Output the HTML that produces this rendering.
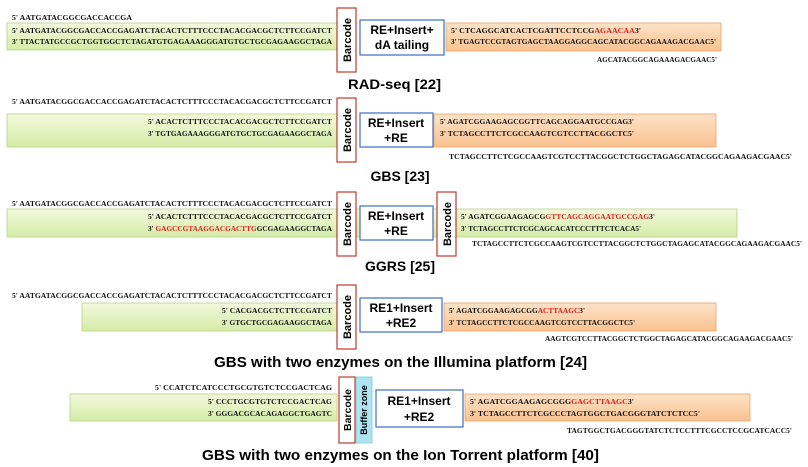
<!DOCTYPE html>
<html><head><meta charset="utf-8"><style>
html,body{margin:0;padding:0;background:#fff;}
svg{display:block}
.s{font-family:"Liberation Serif",serif;font-size:7.5px;fill:#111;font-weight:bold}
.r{fill:#e0201a}
.b{font-family:"Liberation Sans",sans-serif;font-weight:bold;fill:#000}
</style></head><body>
<svg width="808" height="467" viewBox="0 0 808 467" xmlns="http://www.w3.org/2000/svg">
<defs>
<linearGradient id="g" x1="0" y1="0" x2="0" y2="1"><stop offset="0" stop-color="#f2f9dc"/><stop offset="1" stop-color="#d6eca8"/></linearGradient>
<linearGradient id="o" x1="0" y1="0" x2="0" y2="1"><stop offset="0" stop-color="#fde3c8"/><stop offset="1" stop-color="#f9c290"/></linearGradient>
</defs>

<!-- Section 1 RAD-seq -->
<text class="s" x="12" y="20" textLength="120" lengthAdjust="spacingAndGlyphs">5' AATGATACGGCGACCACCGA</text>
<rect x="7" y="23" width="330" height="27" fill="url(#g)" stroke="#b8cf8a" stroke-width="0.8"/>
<text class="s" x="12" y="33" textLength="320" lengthAdjust="spacingAndGlyphs">5' AATGATACGGCGACCACCGAGATCTACACTCTTTCCCTACACGACGCTCTTCCGATCT</text>
<text class="s" x="12" y="44" textLength="320" lengthAdjust="spacingAndGlyphs">3' TTACTATGCCGCTGGTGGCTCTAGATGTGAGAAAGGGATGTGCTGCGAGAAGGCTAGA</text>
<rect x="337" y="8" width="19" height="64" fill="#fff" stroke="#c0392b" stroke-width="1.2"/>
<text class="b" font-size="11" transform="translate(351,40) rotate(-90)" text-anchor="middle">Barcode</text>
<rect x="360" y="20" width="84" height="35" fill="#fff" stroke="#3a6fc4" stroke-width="1.2"/>
<text class="b" font-size="12" x="402" y="34" text-anchor="middle">RE+Insert+</text>
<text class="b" font-size="12" x="402" y="49" text-anchor="middle">dA tailing</text>
<rect x="446" y="23" width="275" height="28" fill="url(#o)" stroke="#e8a46a" stroke-width="0.8"/>
<text class="s" x="451" y="33" textLength="190" lengthAdjust="spacingAndGlyphs">5'  CTCAGGCATCACTCGATTCCTCCG<tspan class="r">AGAACAA</tspan>3'</text>
<text class="s" x="451" y="44" textLength="265" lengthAdjust="spacingAndGlyphs">3' TGAGTCCGTAGTGAGCTAAGGAGGCAGCATACGGCAGAAAGACGAAC5'</text>
<text class="s" x="597" y="62" textLength="120" lengthAdjust="spacingAndGlyphs">AGCATACGGCAGAAAGACGAAC5'</text>
<text class="b" font-size="14" x="348" y="89" textLength="93" lengthAdjust="spacingAndGlyphs">RAD-seq [22]</text>

<!-- Section 2 GBS -->
<text class="s" x="12" y="104" textLength="320" lengthAdjust="spacingAndGlyphs">5' AATGATACGGCGACCACCGAGATCTACACTCTTTCCCTACACGACGCTCTTCCGATCT</text>
<rect x="7" y="114" width="330" height="33" fill="url(#g)" stroke="#b8cf8a" stroke-width="0.8"/>
<text class="s" x="148" y="124" textLength="184" lengthAdjust="spacingAndGlyphs">5' ACACTCTTTCCCTACACGACGCTCTTCCGATCT</text>
<text class="s" x="148" y="136" textLength="184" lengthAdjust="spacingAndGlyphs">3' TGTGAGAAAGGGATGTGCTGCGAGAAGGCTAGA</text>
<rect x="337" y="98" width="19" height="64" fill="#fff" stroke="#c0392b" stroke-width="1.2"/>
<text class="b" font-size="11" transform="translate(351,130) rotate(-90)" text-anchor="middle">Barcode</text>
<rect x="360" y="113" width="73" height="34" fill="#fff" stroke="#3a6fc4" stroke-width="1.2"/>
<text class="b" font-size="12" x="396" y="127" text-anchor="middle">RE+Insert</text>
<text class="b" font-size="12" x="396" y="142" text-anchor="middle">+RE</text>
<rect x="434" y="114" width="282" height="33" fill="url(#o)" stroke="#e8a46a" stroke-width="0.8"/>
<text class="s" x="440" y="124" textLength="194" lengthAdjust="spacingAndGlyphs">5' AGATCGGAAGAGCGGTTCAGCAGGAATGCCGAG3'</text>
<text class="s" x="440" y="136" textLength="194" lengthAdjust="spacingAndGlyphs">3' TCTAGCCTTCTCGCCAAGTCGTCCTTACGGCTC5'</text>
<text class="s" x="449" y="159" textLength="343" lengthAdjust="spacingAndGlyphs">TCTAGCCTTCTCGCCAAGTCGTCCTTACGGCTCTGGCTAGAGCATACGGCAGAAGACGAAC5'</text>
<text class="b" font-size="14" x="400" y="181" text-anchor="middle">GBS [23]</text>

<!-- Section 3 GGRS -->
<text class="s" x="12" y="206" textLength="320" lengthAdjust="spacingAndGlyphs">5' AATGATACGGCGACCACCGAGATCTACACTCTTTCCCTACACGACGCTCTTCCGATCT</text>
<rect x="7" y="209" width="730" height="28" fill="url(#g)" stroke="#b8cf8a" stroke-width="0.8"/>
<text class="s" x="148" y="219" textLength="184" lengthAdjust="spacingAndGlyphs">5' ACACTCTTTCCCTACACGACGCTCTTCCGATCT</text>
<text class="s" x="148" y="231" textLength="184" lengthAdjust="spacingAndGlyphs">3' <tspan class="r">GAGCCGTAAGGACGACTTG</tspan>GCGAGAAGGCTAGA</text>
<rect x="337" y="192" width="19" height="64" fill="#fff" stroke="#c0392b" stroke-width="1.2"/>
<text class="b" font-size="11" transform="translate(351,224) rotate(-90)" text-anchor="middle">Barcode</text>
<rect x="360" y="206" width="73" height="34" fill="#fff" stroke="#3a6fc4" stroke-width="1.2"/>
<text class="b" font-size="12" x="396" y="220" text-anchor="middle">RE+Insert</text>
<text class="b" font-size="12" x="396" y="235" text-anchor="middle">+RE</text>
<rect x="437" y="192" width="19" height="64" fill="#fff" stroke="#c0392b" stroke-width="1.2"/>
<text class="b" font-size="11" transform="translate(451,224) rotate(-90)" text-anchor="middle">Barcode</text>
<text class="s" x="461" y="219" textLength="194" lengthAdjust="spacingAndGlyphs">5' AGATCGGAAGAGCG<tspan class="r">GTTCAGCAGGAATGCCGAG</tspan>3'</text>
<text class="s" x="461" y="231" textLength="180" lengthAdjust="spacingAndGlyphs">3' TCTAGCCTTCTCGCAGCACATCCCTTTCTCACA5'</text>
<text class="s" x="472" y="246" textLength="330" lengthAdjust="spacingAndGlyphs">TCTAGCCTTCTCGCCAAGTCGTCCTTACGGCTCTGGCTAGAGCATACGGCAGAAGACGAAC5'</text>
<text class="b" font-size="14" x="400" y="271" text-anchor="middle">GGRS [25]</text>

<!-- Section 4 -->
<text class="s" x="12" y="298" textLength="320" lengthAdjust="spacingAndGlyphs">5' AATGATACGGCGACCACCGAGATCTACACTCTTTCCCTACACGACGCTCTTCCGATCT</text>
<rect x="82" y="303" width="255" height="28" fill="url(#g)" stroke="#b8cf8a" stroke-width="0.8"/>
<text class="s" x="222" y="313" textLength="110" lengthAdjust="spacingAndGlyphs">5' CACGACGCTCTTCCGATCT</text>
<text class="s" x="222" y="325" textLength="110" lengthAdjust="spacingAndGlyphs">3' GTGCTGCGAGAAGGCTAGA</text>
<rect x="337" y="285" width="19" height="64" fill="#fff" stroke="#c0392b" stroke-width="1.2"/>
<text class="b" font-size="11" transform="translate(351,317) rotate(-90)" text-anchor="middle">Barcode</text>
<rect x="360" y="298" width="82" height="34" fill="#fff" stroke="#3a6fc4" stroke-width="1.2"/>
<text class="b" font-size="12" x="401" y="312" text-anchor="middle">RE1+Insert</text>
<text class="b" font-size="12" x="401" y="327" text-anchor="middle">+RE2</text>
<rect x="444" y="303" width="272" height="28" fill="url(#o)" stroke="#e8a46a" stroke-width="0.8"/>
<text class="s" x="449" y="313" textLength="136" lengthAdjust="spacingAndGlyphs">5' AGATCGGAAGAGCGG<tspan class="r">ACTTAAGC</tspan>3'</text>
<text class="s" x="449" y="325" textLength="186" lengthAdjust="spacingAndGlyphs">3' TCTAGCCTTCTCGCCAAGTCGTCCTTACGGCTC5'</text>
<text class="s" x="545" y="341" textLength="248" lengthAdjust="spacingAndGlyphs">AAGTCGTCCTTACGGCTCTGGCTAGAGCATACGGCAGAAGACGAAC5'</text>
<text class="b" font-size="15" x="214" y="367" textLength="373" lengthAdjust="spacingAndGlyphs">GBS with two enzymes on the Illumina platform [24]</text>

<!-- Section 5 -->
<text class="s" x="155" y="390" textLength="177" lengthAdjust="spacingAndGlyphs">5'  CCATCTCATCCCTGCGTGTCTCCGACTCAG</text>
<rect x="70" y="394" width="267" height="27" fill="url(#g)" stroke="#b8cf8a" stroke-width="0.8"/>
<text class="s" x="208" y="404" textLength="124" lengthAdjust="spacingAndGlyphs">5' CCCTGCGTGTCTCCGACTCAG</text>
<text class="s" x="208" y="416" textLength="124" lengthAdjust="spacingAndGlyphs">3' GGGACGCACAGAGGCTGAGTC</text>
<rect x="339" y="377" width="16" height="66" fill="#fff" stroke="#c0392b" stroke-width="1.2"/>
<text class="b" font-size="10.5" transform="translate(351,410) rotate(-90)" text-anchor="middle">Barcode</text>
<rect x="356" y="377" width="16" height="66" fill="#aee4f2" stroke="#7cc8dc" stroke-width="0.8"/>
<text class="b" font-size="9" transform="translate(367,410) rotate(-90)" text-anchor="middle">Buffer zone</text>
<rect x="376" y="390" width="87" height="37" fill="#fff" stroke="#3a6fc4" stroke-width="1.2"/>
<text class="b" font-size="12" x="419" y="405" text-anchor="middle">RE1+Insert</text>
<text class="b" font-size="12" x="419" y="421" text-anchor="middle">+RE2</text>
<rect x="465" y="394" width="285" height="27" fill="url(#o)" stroke="#e8a46a" stroke-width="0.8"/>
<text class="s" x="470" y="404" textLength="164" lengthAdjust="spacingAndGlyphs">5' AGATCGGAAGAGCGGG<tspan class="r">GAGCTTAAGC</tspan>3'</text>
<text class="s" x="470" y="416" textLength="230" lengthAdjust="spacingAndGlyphs">3' TCTAGCCTTCTCGCCCTAGTGGCTGACGGGTATCTCTCC5'</text>
<text class="s" x="567" y="433" textLength="225" lengthAdjust="spacingAndGlyphs">TAGTGGCTGACGGGTATCTCTCCTTTCGCCTCCGCATCACC5'</text>
<text class="b" font-size="15" x="202" y="460" textLength="397" lengthAdjust="spacingAndGlyphs">GBS with two enzymes on the Ion Torrent platform [40]</text>
</svg>
</body></html>
